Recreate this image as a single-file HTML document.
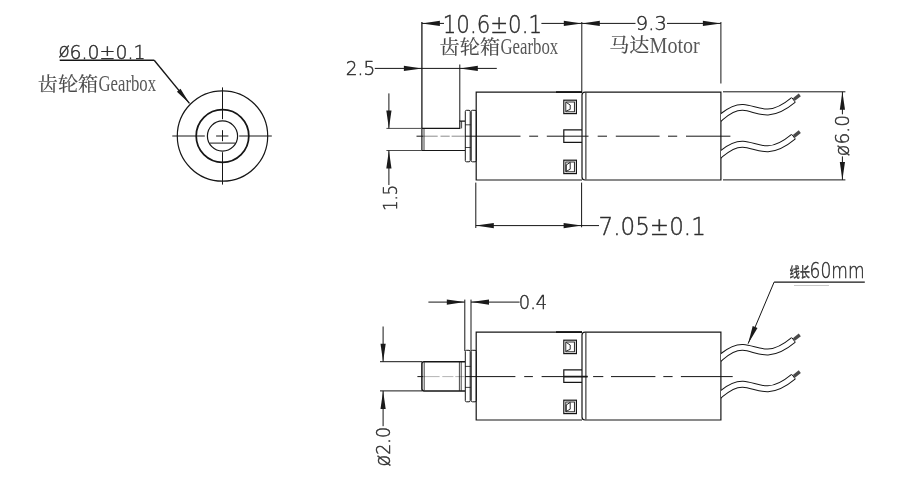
<!DOCTYPE html>
<html lang="zh"><head><meta charset="utf-8"><title>Gearbox motor drawing</title>
<style>
html,body{margin:0;padding:0;background:#fff;}
body{width:920px;height:477px;overflow:hidden;}
svg{display:block;position:absolute;left:0;top:0;will-change:transform;opacity:0.999;}
svg *{vector-effect:none;}
.g line,.g path,.g rect,.g circle{fill:none;stroke:#161616;}
.g .ar{fill:#1a1a1a;stroke:none;}
text{stroke:none;}
text.d{font-family:"DejaVu Sans Light","DejaVu Sans","Liberation Sans",sans-serif;font-weight:200;fill:#2e2e2e;stroke:#2e2e2e;stroke-width:0.45px;}
text.c{font-family:"Liberation Serif","Noto Serif CJK SC",serif;fill:#484848;stroke:#484848;stroke-width:0.15px;}
text.c.l{fill:#585858;stroke:none;}
text.cb{font-family:"Liberation Sans","Noto Sans CJK SC",sans-serif;font-weight:700;fill:#444;}
</style></head>
<body>
<svg width="920" height="477" viewBox="0 0 920 477">
<defs><clipPath id="wc"><rect x="720.9" y="0" width="200" height="477"/></clipPath></defs>
<g class="g">
<circle cx="222.5" cy="136" r="45.2" stroke-width="1.2"/>
<circle cx="222.5" cy="136" r="26.3" stroke-width="1.75"/>
<circle cx="222.5" cy="136" r="15.1" stroke-width="1.2"/>
<line x1="209.5" y1="143.1" x2="235.5" y2="143.1" stroke-width="1.0"/>
<line x1="172.3" y1="136" x2="204.8" y2="136" stroke-width="1.0"/>
<line x1="216.1" y1="136" x2="228.4" y2="136" stroke-width="1.0"/>
<line x1="239.2" y1="136" x2="271.8" y2="136" stroke-width="1.0"/>
<line x1="222.5" y1="87.4" x2="222.5" y2="119.2" stroke-width="1.0"/>
<line x1="222.5" y1="130.2" x2="222.5" y2="141.2" stroke-width="1.0"/>
<line x1="222.5" y1="152.2" x2="222.5" y2="184.6" stroke-width="1.0"/>
<path d="M59.7,60.3 H154.2" stroke-width="1.6" />
<line x1="154.2" y1="60.3" x2="189.5" y2="103.4" stroke-width="1.4"/>
<polygon class="ar" points="189.5,103.4 176.9,91.7 180.5,88.8"/>
<text class="d" x="58.4" y="58.6" font-size="19.6" textLength="87" lengthAdjust="spacingAndGlyphs"><tspan font-size="19" dy="-1.6">ø</tspan><tspan dy="1.6">6.0±0.1</tspan></text>
<text class="c" x="37.7" y="90.8" font-size="19.8" textLength="60.6" lengthAdjust="spacingAndGlyphs">齿轮箱</text>
<text class="c l" x="98.5" y="91.3" font-size="22.8" textLength="57.6" lengthAdjust="spacingAndGlyphs">Gearbox</text>
<path d="M582,92.1 H476.2 V180 H582" stroke-width="1.2" />
<line x1="556" y1="92.1" x2="582" y2="92.1" stroke-width="1.8"/>
<path d="M582,95.1 Q582,92.1 585,92.1 H720.9 V180 H585 Q582,180 582,177 Z" stroke-width="1.2" />
<line x1="585.9" y1="92.6" x2="585.9" y2="179.5" stroke-width="1.0"/>
<rect x="563.8" y="100.2" width="12.6" height="13.4" rx="0" stroke-width="1.2"/>
<rect x="565.8" y="102.0" width="8.6" height="9.8" rx="0" stroke-width="0.9"/>
<path d="M566.2,102.4 L570.2,105.0 V109.4 L566.2,111.0" stroke-width="0.9" />
<rect x="563.8" y="160.2" width="12.6" height="13.4" rx="0" stroke-width="1.2"/>
<rect x="565.8" y="162.0" width="8.6" height="9.8" rx="0" stroke-width="0.9"/>
<path d="M566.2,171.39999999999998 V165.0 L570.2,162.39999999999998 V169.2 Z" stroke-width="0.9" />
<path d="M582,129.79999999999998 H563.8 V142.39999999999998 H582" stroke-width="1.2" />
<rect x="465.3" y="110.3" width="4.9" height="51.5" rx="1.2" stroke-width="1"/>
<rect x="471.2" y="110.3" width="5.1" height="51.5" rx="1.2" stroke-width="1"/>
<path d="M715.6,122.0 L720.9,117.4 C727,112.2 735,107.0 743,107.4 C751,107.8 759,112.4 768,112.0 C778,111.5 787,105.2 793.5,99.8" stroke-width="6.9" clip-path="url(#wc)"/>
<path d="M715.6,122.0 L720.9,117.4 C727,112.2 735,107.0 743,107.4 C751,107.8 759,112.4 768,112.0 C778,111.5 787,105.2 793.5,99.8" stroke-width="4.9" style="stroke:#fff" clip-path="url(#wc)"/>
<line x1="791.9" y1="97.7" x2="795.1" y2="101.9" stroke-width="1"/>
<line x1="793.9" y1="99.5" x2="799.8" y2="94.9" stroke-width="3.4" style="stroke:#4a4a4a"/>
<path d="M715.6,158.8 L720.9,154.2 C727,149.0 735,143.8 743,144.2 C751,144.6 759,149.2 768,148.8 C778,148.3 787,142.0 793.5,136.6" stroke-width="6.9" clip-path="url(#wc)"/>
<path d="M715.6,158.8 L720.9,154.2 C727,149.0 735,143.8 743,144.2 C751,144.6 759,149.2 768,148.8 C778,148.3 787,142.0 793.5,136.6" stroke-width="4.9" style="stroke:#fff" clip-path="url(#wc)"/>
<line x1="791.9" y1="134.5" x2="795.1" y2="138.7" stroke-width="1"/>
<line x1="793.9" y1="136.3" x2="799.8" y2="131.7" stroke-width="3.4" style="stroke:#4a4a4a"/>
<line x1="416.5" y1="136.2" x2="423" y2="136.2" stroke-width="1.0"/>
<line x1="465" y1="136.2" x2="520.5" y2="136.2" stroke-width="1.0"/>
<line x1="529.2" y1="136.2" x2="538.1" y2="136.2" stroke-width="1.0"/>
<line x1="546.8" y1="136.2" x2="588.5" y2="136.2" stroke-width="1.0"/>
<line x1="597.7" y1="136.2" x2="607" y2="136.2" stroke-width="1.0"/>
<line x1="615.8" y1="136.2" x2="659.6" y2="136.2" stroke-width="1.0"/>
<line x1="668" y1="136.2" x2="677.2" y2="136.2" stroke-width="1.0"/>
<line x1="686" y1="136.2" x2="730.4" y2="136.2" stroke-width="1.0"/>
<line x1="423" y1="136.2" x2="437.7" y2="136.2" stroke-width="1" style="stroke:#8c8c8c"/>
<line x1="440.5" y1="136.2" x2="449.7" y2="136.2" stroke-width="1" style="stroke:#8c8c8c"/>
<line x1="451.6" y1="136.2" x2="465" y2="136.2" stroke-width="1" style="stroke:#8c8c8c"/>
<path d="M465,150.5 H421.9 V128.4 H459.8 V121.2 H465" stroke-width="1.2" />
<line x1="424" y1="128.4" x2="424" y2="150.5" stroke-width="0.8"/>
<line x1="461.6" y1="121.2" x2="461.6" y2="128.4" stroke-width="0.8"/>
<line x1="465" y1="124.8" x2="470.8" y2="124.8" stroke-width="0.8"/>
<line x1="465" y1="147.5" x2="470.8" y2="147.5" stroke-width="0.8"/>
<line x1="421.9" y1="22" x2="421.9" y2="128.4" stroke-width="1.3"/>
<line x1="459.8" y1="64.5" x2="459.8" y2="121.2" stroke-width="1.0"/>
<line x1="581.8" y1="22" x2="581.8" y2="92" stroke-width="1.0"/>
<line x1="720.9" y1="22" x2="720.9" y2="83.5" stroke-width="1.0"/>
<line x1="421.9" y1="23.4" x2="444" y2="23.4" stroke-width="1.0"/>
<line x1="541.4" y1="23.4" x2="581.8" y2="23.4" stroke-width="1.0"/>
<line x1="581.8" y1="23.4" x2="635.5" y2="23.4" stroke-width="1.0"/>
<line x1="667" y1="23.4" x2="720.9" y2="23.4" stroke-width="1.0"/>
<polygon class="ar" points="421.9,23.4 439.9,20.8 439.9,26.0"/>
<polygon class="ar" points="581.8,23.4 563.8,26.0 563.8,20.8"/>
<polygon class="ar" points="581.8,23.4 599.8,20.8 599.8,26.0"/>
<polygon class="ar" points="720.9,23.4 702.9,26.0 702.9,20.8"/>
<text class="d" x="442.8" y="32.8" font-size="25" textLength="99.2" lengthAdjust="spacingAndGlyphs">10.6±0.1</text>
<text class="d" x="635.8" y="30.2" font-size="19.6" textLength="31" lengthAdjust="spacingAndGlyphs">9.3</text>
<text class="c" x="439.6" y="53.6" font-size="19.8" textLength="60.6" lengthAdjust="spacingAndGlyphs">齿轮箱</text>
<text class="c l" x="500.4" y="54.1" font-size="22.8" textLength="57.8" lengthAdjust="spacingAndGlyphs">Gearbox</text>
<text class="c" x="609.2" y="52.4" font-size="19.8" textLength="40.2" lengthAdjust="spacingAndGlyphs">马达</text>
<text class="c l" x="649.6" y="52.9" font-size="22.8" textLength="50.2" lengthAdjust="spacingAndGlyphs">Motor</text>
<line x1="374.8" y1="68.4" x2="496.8" y2="68.4" stroke-width="1.0"/>
<polygon class="ar" points="421.9,68.4 403.9,71.0 403.9,65.8"/>
<polygon class="ar" points="459.8,68.4 477.8,65.8 477.8,71.0"/>
<text class="d" x="345.8" y="75.4" font-size="19.2" textLength="29.4" lengthAdjust="spacingAndGlyphs">2.5</text>
<line x1="386.4" y1="128.4" x2="422" y2="128.4" stroke-width="1" style="stroke:#4a4a4a"/>
<line x1="386.4" y1="150.5" x2="422" y2="150.5" stroke-width="1" style="stroke:#4a4a4a"/>
<line x1="388.9" y1="93.4" x2="388.9" y2="128.4" stroke-width="1.0"/>
<line x1="388.9" y1="150.5" x2="388.9" y2="185" stroke-width="1.0"/>
<polygon class="ar" points="388.9,128.4 386.3,110.4 391.5,110.4"/>
<polygon class="ar" points="388.9,150.5 391.5,168.5 386.3,168.5"/>
<text class="d" x="397.2" y="210.8" font-size="19.8" textLength="25.8" lengthAdjust="spacingAndGlyphs" transform="rotate(-90 397.2 210.8)">1.5</text>
<line x1="723" y1="91.8" x2="845.4" y2="91.8" stroke-width="1.0"/>
<line x1="723" y1="179.9" x2="845.4" y2="179.9" stroke-width="1.0"/>
<line x1="842.4" y1="91.8" x2="842.4" y2="114.3" stroke-width="1.0"/>
<line x1="842.4" y1="156.4" x2="842.4" y2="179.9" stroke-width="1.0"/>
<polygon class="ar" points="842.4,91.8 845.0,109.8 839.8,109.8"/>
<polygon class="ar" points="842.4,179.9 839.8,161.9 845.0,161.9"/>
<text class="d" x="849.5" y="156.2" font-size="19.6" textLength="41.2" lengthAdjust="spacingAndGlyphs" transform="rotate(-90 849.5 156.2)"><tspan font-size="20">ø</tspan>6.0</text>
<line x1="475.8" y1="182.6" x2="475.8" y2="228" stroke-width="1.0"/>
<line x1="581.6" y1="182.6" x2="581.6" y2="227.3" stroke-width="1.0"/>
<line x1="475.8" y1="225.6" x2="599" y2="225.6" stroke-width="1.0"/>
<polygon class="ar" points="475.8,225.6 493.8,223.0 493.8,228.2"/>
<polygon class="ar" points="581.6,225.6 563.6,228.2 563.6,223.0"/>
<text class="d" x="598.6" y="234.6" font-size="25.6" textLength="107.2" lengthAdjust="spacingAndGlyphs">7.05±0.1</text>
<path d="M582,332.1 H476.2 V420 H582" stroke-width="1.2" />
<line x1="556" y1="332.1" x2="582" y2="332.1" stroke-width="1.8"/>
<path d="M582,335.1 Q582,332.1 585,332.1 H720.9 V420 H585 Q582,420 582,417 Z" stroke-width="1.2" />
<line x1="585.9" y1="332.6" x2="585.9" y2="419.5" stroke-width="1.0"/>
<rect x="563.8" y="340.2" width="12.6" height="13.4" rx="0" stroke-width="1.2"/>
<rect x="565.8" y="342.0" width="8.6" height="9.8" rx="0" stroke-width="0.9"/>
<path d="M566.2,342.4 L570.2,345.0 V349.4 L566.2,351.0" stroke-width="0.9" />
<rect x="563.8" y="400.2" width="12.6" height="13.4" rx="0" stroke-width="1.2"/>
<rect x="565.8" y="402.0" width="8.6" height="9.8" rx="0" stroke-width="0.9"/>
<path d="M566.2,411.4 V405.0 L570.2,402.4 V409.2 Z" stroke-width="0.9" />
<path d="M582,369.8 H563.8 V382.4 H582" stroke-width="1.2" />
<rect x="465.3" y="350.3" width="4.9" height="51.5" rx="1.2" stroke-width="1"/>
<rect x="471.2" y="350.3" width="5.1" height="51.5" rx="1.2" stroke-width="1"/>
<path d="M715.6,362.0 L720.9,357.4 C727,352.2 735,347.0 743,347.4 C751,347.8 759,352.4 768,352.0 C778,351.5 787,345.2 793.5,339.8" stroke-width="6.9" clip-path="url(#wc)"/>
<path d="M715.6,362.0 L720.9,357.4 C727,352.2 735,347.0 743,347.4 C751,347.8 759,352.4 768,352.0 C778,351.5 787,345.2 793.5,339.8" stroke-width="4.9" style="stroke:#fff" clip-path="url(#wc)"/>
<line x1="791.9" y1="337.7" x2="795.1" y2="341.9" stroke-width="1"/>
<line x1="793.9" y1="339.5" x2="799.8" y2="334.9" stroke-width="3.4" style="stroke:#4a4a4a"/>
<path d="M715.6,398.8 L720.9,394.2 C727,389.0 735,383.8 743,384.2 C751,384.6 759,389.2 768,388.8 C778,388.3 787,382.0 793.5,376.6" stroke-width="6.9" clip-path="url(#wc)"/>
<path d="M715.6,398.8 L720.9,394.2 C727,389.0 735,383.8 743,384.2 C751,384.6 759,389.2 768,388.8 C778,388.3 787,382.0 793.5,376.6" stroke-width="4.9" style="stroke:#fff" clip-path="url(#wc)"/>
<line x1="791.9" y1="374.5" x2="795.1" y2="378.70000000000005" stroke-width="1"/>
<line x1="793.9" y1="376.3" x2="799.8" y2="371.70000000000005" stroke-width="3.4" style="stroke:#4a4a4a"/>
<line x1="417.4" y1="376.6" x2="423" y2="376.6" stroke-width="1.0"/>
<line x1="465" y1="376.6" x2="515.4" y2="376.6" stroke-width="1.0"/>
<line x1="524.2" y1="376.6" x2="532.9" y2="376.6" stroke-width="1.0"/>
<line x1="541.6" y1="376.6" x2="587.6" y2="376.6" stroke-width="1.0"/>
<line x1="593.1" y1="376.6" x2="603.3" y2="376.6" stroke-width="1.0"/>
<line x1="611" y1="376.6" x2="655.4" y2="376.6" stroke-width="1.0"/>
<line x1="663.3" y1="376.6" x2="672.6" y2="376.6" stroke-width="1.0"/>
<line x1="680.9" y1="376.6" x2="732.7" y2="376.6" stroke-width="1.0"/>
<line x1="423" y1="376.6" x2="439.6" y2="376.6" stroke-width="1" style="stroke:#b4b4b4"/>
<line x1="442.3" y1="376.6" x2="453.4" y2="376.6" stroke-width="1" style="stroke:#b4b4b4"/>
<line x1="455.3" y1="376.6" x2="465" y2="376.6" stroke-width="1" style="stroke:#b4b4b4"/>
<line x1="564" y1="376.6" x2="587.6" y2="376.6" stroke-width="1.7"/>
<path d="M465,361.7 H424 Q421.9,361.7 421.9,363.8 V388.8 Q421.9,390.9 424,390.9 H465" stroke-width="1.5" />
<line x1="424.2" y1="362.2" x2="424.2" y2="390.4" stroke-width="0.8"/>
<line x1="459.4" y1="361.7" x2="459.4" y2="390.9" stroke-width="0.8"/>
<line x1="461.2" y1="361.7" x2="461.2" y2="390.9" stroke-width="0.8"/>
<line x1="465" y1="366.4" x2="470.8" y2="366.4" stroke-width="0.8"/>
<line x1="465" y1="387.4" x2="470.8" y2="387.4" stroke-width="0.8"/>
<line x1="464.8" y1="299.6" x2="464.8" y2="351" stroke-width="1.0"/>
<line x1="471" y1="299.6" x2="471" y2="351" stroke-width="1.0"/>
<line x1="428.4" y1="302.1" x2="464.8" y2="302.1" stroke-width="1.0"/>
<line x1="471" y1="302.1" x2="519.6" y2="302.1" stroke-width="1.0"/>
<polygon class="ar" points="464.8,302.1 446.8,304.7 446.8,299.5"/>
<polygon class="ar" points="471.0,302.1 489.0,299.5 489.0,304.7"/>
<text class="d" x="518.8" y="309.3" font-size="19.6" textLength="28.4" lengthAdjust="spacingAndGlyphs">0.4</text>
<line x1="380" y1="361.7" x2="422" y2="361.7" stroke-width="1.0"/>
<line x1="380" y1="390.9" x2="422" y2="390.9" stroke-width="1.0"/>
<line x1="383.1" y1="326.5" x2="383.1" y2="361.7" stroke-width="1.0"/>
<line x1="383.1" y1="390.9" x2="383.1" y2="426.2" stroke-width="1.0"/>
<polygon class="ar" points="383.1,361.7 380.5,343.7 385.7,343.7"/>
<polygon class="ar" points="383.1,390.9 385.7,408.9 380.5,408.9"/>
<text class="d" x="390.2" y="466.4" font-size="19.2" textLength="39.4" lengthAdjust="spacingAndGlyphs" transform="rotate(-90 390.2 466.4)"><tspan font-size="21">ø</tspan>2.0</text>
<line x1="774.1" y1="282.1" x2="864.8" y2="282.1" stroke-width="1.3"/>
<line x1="774.1" y1="282.1" x2="748.1" y2="343.7" stroke-width="1.0"/>
<polygon class="ar" points="748.1,343.7 752.7,326.1 757.5,328.1"/>
<text class="cb" x="789.4" y="276.6" font-size="13.6" textLength="20.8" lengthAdjust="spacingAndGlyphs">线长</text>
<text class="d" x="809.6" y="277.7" font-size="22" textLength="55" lengthAdjust="spacingAndGlyphs">60mm</text>
<line x1="794" y1="285.5" x2="829" y2="285.5" stroke-width="1" style="stroke:#c8c8c8"/>
</g>
</svg>
</body></html>
